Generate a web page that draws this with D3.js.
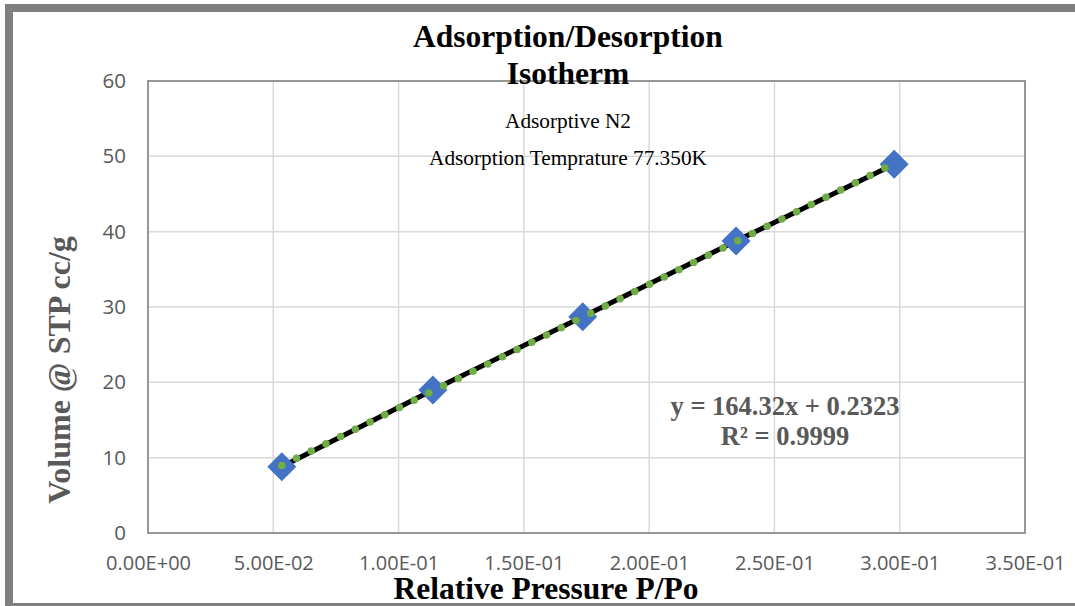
<!DOCTYPE html>
<html>
<head>
<meta charset="utf-8">
<script src="https://cdn.jsdelivr.net/npm/d3@7"></script>
<style>
html,body{margin:0;padding:0;background:#fff;}
svg{display:block;}
</style>
</head>
<body>
<svg id="chart" width="1075" height="606"></svg>
<script>
// ---- data ----
const pressure = [0.0534, 0.1137, 0.1735, 0.2347, 0.2978];
const volume = [8.80, 18.98, 28.71, 38.76, 48.94];
const xTicks = [0, 0.05, 0.10, 0.15, 0.20, 0.25, 0.30, 0.35];
const yTicks = [0, 10, 20, 30, 40, 50, 60];
const titleLines = ["Adsorption/Desorption", "Isotherm"];
const subtitleLines = ["Adsorptive N2", "Adsorption Temprature 77.350K"];
const equationLines = ["y = 164.32x + 0.2323", "R\u00B2 = 0.9999"];
const xLabel = "Relative Pressure P/Po";
const yLabel = "Volume @ STP cc/g";

const svg = d3.select("#chart");
const W = 1075, H = 606;
const plot = {left: 148, top: 81, right: 1025, bottom: 533};

// outer frame
svg.append("rect").attr("x", 0).attr("y", 0).attr("width", W).attr("height", H).attr("fill", "#fff");
svg.append("rect").attr("x", 9).attr("y", 8).attr("width", 1085).attr("height", 599)
  .attr("fill", "none").attr("stroke", "#808080").attr("stroke-width", 8);

const x = d3.scaleLinear().domain([0, 0.35]).range([plot.left, plot.right]);
const y = d3.scaleLinear().domain([0, 60]).range([plot.bottom, plot.top]);

// gridlines
svg.append("g").selectAll("line").data(xTicks.slice(1, -1)).join("line")
  .attr("x1", d => x(d)).attr("x2", d => x(d)).attr("y1", plot.top).attr("y2", plot.bottom)
  .attr("stroke", "#d9d9d9").attr("stroke-width", 1.5);
svg.append("g").selectAll("line").data(yTicks.slice(1, -1)).join("line")
  .attr("y1", d => y(d)).attr("y2", d => y(d)).attr("x1", plot.left).attr("x2", plot.right)
  .attr("stroke", "#d9d9d9").attr("stroke-width", 1.5);

// plot border
svg.append("rect").attr("x", plot.left).attr("y", plot.top)
  .attr("width", plot.right - plot.left).attr("height", plot.bottom - plot.top)
  .attr("fill", "none").attr("stroke", "#8c8c8c").attr("stroke-width", 1.8);

// axes
const fmtX = d => d === 0 ? "0.00E+00" : (function(v){
  const e = Math.floor(Math.log10(v));
  const m = v / Math.pow(10, e);
  const es = (e < 0 ? "-" : "+") + String(Math.abs(e)).padStart(2, "0");
  return m.toFixed(2) + "E" + es;
})(d);

const tickFont = "'Open Sans', sans-serif";
const xAxis = d3.axisBottom(x).tickValues(xTicks).tickFormat(fmtX).tickSize(0).tickPadding(23);
const gx = svg.append("g").attr("transform", `translate(0,${plot.bottom})`).call(xAxis);
gx.select(".domain").remove();
gx.selectAll("text").attr("font-family", tickFont).attr("font-size", 20).attr("fill", "#595959");

const yAxis = d3.axisLeft(y).tickValues(yTicks).tickSize(0).tickPadding(22);
const gy = svg.append("g").attr("transform", `translate(${plot.left},0)`).call(yAxis);
gy.select(".domain").remove();
gy.selectAll("text").attr("font-family", tickFont).attr("font-size", 20.5).attr("fill", "#595959");

const pts = pressure.map((p, i) => [p, volume[i]]);

// series line (black)
const line = d3.line().x(d => x(d[0])).y(d => y(d[1]));
svg.append("path").datum(pts).attr("d", line)
  .attr("fill", "none").attr("stroke", "#000").attr("stroke-width", 5);

// markers
svg.append("g").selectAll("path").data(pts).join("path")
  .attr("transform", d => `translate(${x(d[0])},${y(d[1])})`)
  .attr("d", "M0,-14.5L14.5,0L0,14.5L-14.5,0Z")
  .attr("fill", "#4472c4");

// linear trendline (least squares)
const mx = d3.mean(pressure), my = d3.mean(volume);
const slope = d3.sum(pts, d => (d[0] - mx) * (d[1] - my)) / d3.sum(pts, d => (d[0] - mx) ** 2);
const icpt = my - slope * mx;
const xr = d3.extent(pressure);
const trend = xr.map(v => [v, icpt + slope * v]);
svg.append("path").datum(trend).attr("d", line)
  .attr("fill", "none").attr("stroke", "#70ad47").attr("stroke-width", 7.5)
  .attr("stroke-linecap", "round").attr("stroke-dasharray", "0 16.4");

// titles
const serif = "'Liberation Serif', 'Times New Roman', serif";
svg.append("g").selectAll("text").data(titleLines).join("text")
  .attr("x", 568).attr("y", (d, i) => 47 + i * 37)
  .attr("text-anchor", "middle").attr("font-family", serif).attr("font-weight", "bold")
  .attr("font-size", 31.5).attr("fill", "#000").text(d => d);

svg.append("g").selectAll("text").data(subtitleLines).join("text")
  .attr("x", 568).attr("y", (d, i) => 128 + i * 37)
  .attr("text-anchor", "middle").attr("font-family", serif)
  .attr("font-size", 21.3).attr("fill", "#000").text(d => d);

svg.append("g").selectAll("text").data(equationLines).join("text")
  .attr("x", 785).attr("y", (d, i) => 415 + i * 30)
  .attr("text-anchor", "middle").attr("font-family", serif).attr("font-weight", "bold")
  .attr("font-size", 26.5).attr("fill", "#595959").text(d => d);

// axis titles
svg.append("text").attr("x", 546).attr("y", 599)
  .attr("text-anchor", "middle").attr("font-family", serif).attr("font-weight", "bold")
  .attr("font-size", 31.5).attr("fill", "#000").text(xLabel);

svg.append("text").attr("transform", "translate(70,370) rotate(-90)")
  .attr("text-anchor", "middle").attr("font-family", serif).attr("font-weight", "bold")
  .attr("font-size", 32).attr("fill", "#595959").text(yLabel);
</script>
</body>
</html>
